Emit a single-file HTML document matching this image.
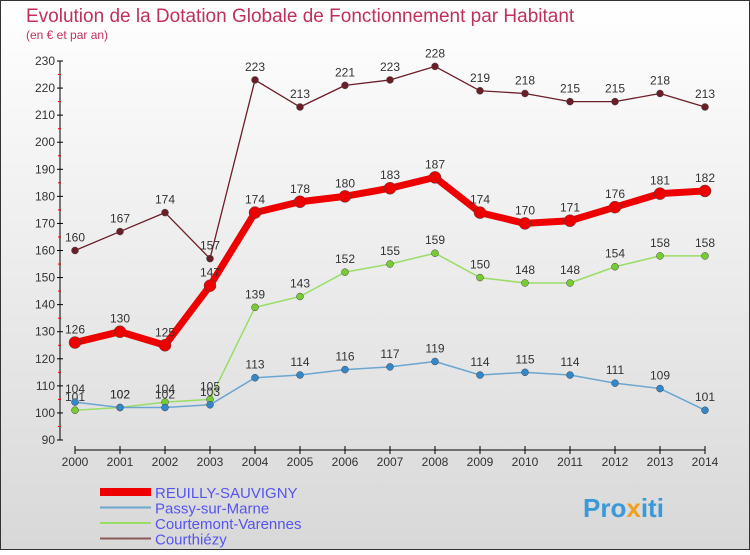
<!DOCTYPE html>
<html><head><meta charset="utf-8"><style>
body{margin:0;width:750px;height:550px;overflow:hidden;font-family:"Liberation Sans",sans-serif}
</style></head><body>
<svg width="750" height="550" xmlns="http://www.w3.org/2000/svg">
<defs><linearGradient id="bg" x1="0" y1="0" x2="0" y2="1"><stop offset="0" stop-color="#ffffff"/><stop offset="1" stop-color="#d8d8d8"/></linearGradient></defs>
<rect x="0.5" y="0.5" width="749" height="549" fill="url(#bg)" stroke="#333"/>
<text x="26" y="22" font-size="19" fill="#c0305a">Evolution de la Dotation Globale de Fonctionnement par Habitant</text>
<text x="26" y="39" font-size="12" fill="#c0305a">(en € et par an)</text>
<g id="axes"></g>
<g id="series"></g>
<g id="legend"></g>
<text x="583" y="517" font-size="26" font-weight="bold" fill="#3a9ad9">Pro<tspan fill="#f0a020">x</tspan>iti</text>
</svg>
<script>
const years=[2000,2001,2002,2003,2004,2005,2006,2007,2008,2009,2010,2011,2012,2013,2014];
const reuilly=[126,130,125,147,174,178,180,183,187,174,170,171,176,181,182];
const passy=[104,102,102,103,113,114,116,117,119,114,115,114,111,109,101];
const courtemont=[101,102,104,105,139,143,152,155,159,150,148,148,154,158,158];
const courthiezy=[160,167,174,157,223,213,221,223,228,219,218,215,215,218,213];
const yTicks=[90,100,110,120,130,140,150,160,170,180,190,200,210,220,230];
const seriesNames=["REUILLY-SAUVIGNY","Passy-sur-Marne","Courtemont-Varennes","Courthiézy"];
const NS="http://www.w3.org/2000/svg";
const X=i=>75+i*45;
const Y=v=>440-(v-90)*(379/140);
function mk(tag,attrs,parent,txt){const e=document.createElementNS(NS,tag);for(const k in attrs)e.setAttribute(k,attrs[k]);if(txt!==undefined)e.textContent=txt;parent.appendChild(e);return e;}
const ax=document.getElementById('axes');
let e=mk('line',{x1:60,y1:Y(230),x2:60,y2:Y(90),stroke:'#000'},ax);


yTicks.forEach(t=>{
 mk('line',{x1:57,x2:63,y1:Y(t),y2:Y(t),stroke:'#000'},ax);
 if(t<230)mk('line',{x1:58,x2:61,y1:Y(t+5),y2:Y(t+5),stroke:'#e00'},ax);
 e=mk('text',{x:55,y:Y(t)+4,'text-anchor':'end','font-size':12,fill:'#333'},ax,t);
 
 
});
e=mk('line',{x1:75,y1:450,x2:705,y2:450,stroke:'#000'},ax);


years.forEach((y,i)=>{
 mk('line',{x1:X(i),x2:X(i),y1:446,y2:454,stroke:'#000'},ax);
 e=mk('text',{x:X(i),y:466,'text-anchor':'middle','font-size':12,fill:'#333'},ax,y);
 
 
});
const sg=document.getElementById('series');
const defs=[
 {d:courthiezy,c:'#6b1e28',w:1.3,r:3.5,name:'courthiezy'},
 {d:courtemont,c:'#99dd66',w:1.5,r:3.5,fill:'#77cc33',name:'courtemont-varennes'},
 {d:passy,c:'#6aa6d0',w:1.5,r:3.5,fill:'#3388cc',name:'passy-sur-marne'},
 {d:reuilly,c:'#ee0000',w:7,r:6,name:'reuilly-sauvigny'}
];
defs.forEach(s=>{
 const g=mk('g',{},sg);
 
 
 mk('polyline',{points:s.d.map((v,i)=>X(i)+','+Y(v)).join(' '),fill:'none',stroke:s.c,'stroke-width':s.w,'stroke-linejoin':'round'},g);
 s.d.forEach((v,i)=>{
  const p=mk('circle',{cx:X(i),cy:Y(v),r:s.r,fill:s.fill||s.c,stroke:'#444','stroke-width':0.5},g);
  
  
  const t=mk('text',{x:X(i),y:Y(v)-9,'text-anchor':'middle','font-size':12,fill:'#333'},g,v);
  
  
 });
});
const lg=document.getElementById('legend');
const lc=[['#ee0000',8],['#6aa6d0',2],['#99dd66',2],['#8b5a5a',2]];
seriesNames.forEach((n,i)=>{
 const y=492+i*15.5;
 const g=mk('g',{},lg);
 
 
 mk('line',{x1:100,x2:151,y1:y,y2:y,stroke:lc[i][0],'stroke-width':lc[i][1]},g);
 mk('text',{x:155,y:y+6,'font-size':15,fill:'#5555ee'},g,n);
});
</script>
</body></html>
